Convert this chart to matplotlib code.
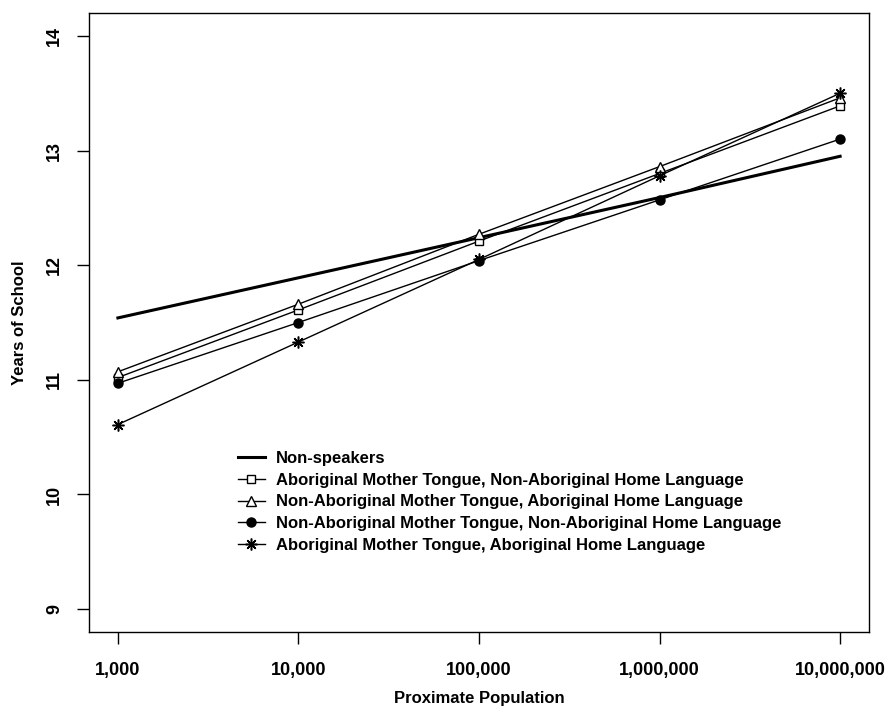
import numpy as np
import matplotlib
matplotlib.use('Agg')
import matplotlib.pyplot as plt
from matplotlib.ticker import FixedLocator, FuncFormatter, NullLocator

# -------------------------------------------------------------------------------------
# Data
population = [1e3, 1e4, 1e5, 1e6, 1e7]

school_nonspeakers = [11.54, 11.89, 12.24, 12.59, 12.95]
school_amt_nahl = [11.02, 11.61, 12.21, 12.80, 13.39]
school_namt_ahl = [11.07, 11.66, 12.27, 12.86, 13.46]
school_namt_nahl = [10.97, 11.50, 12.04, 12.57, 13.10]
school_amt_ahl = [10.61, 11.33, 12.05, 12.78, 13.50]

series_labels = ['Non-speakers',
                 'Aboriginal Mother Tongue, Non-Aboriginal Home Language',
                 'Non-Aboriginal Mother Tongue, Aboriginal Home Language',
                 'Non-Aboriginal Mother Tongue, Non-Aboriginal Home Language',
                 'Aboriginal Mother Tongue, Aboriginal Home Language']

y_ticks = [9, 10, 11, 12, 13, 14]
# -------------------------------------------------------------------------------------

plt.rcParams['font.family'] = ['Liberation Sans', 'DejaVu Sans']
plt.rcParams['font.weight'] = 'bold'

fig = plt.figure(figsize=(8.91, 7.11), dpi=100)
axes = fig.add_axes([89 / 891, 1 - 632 / 711, 780 / 891, 619 / 711])

axes.plot(population, school_nonspeakers, color='black', lw=2.2, label=series_labels[0])
axes.plot(population, school_amt_nahl, color='black', lw=1.0, marker='s', ms=6,
          mfc='white', mec='black', mew=1.0, label=series_labels[1])
axes.plot(population, school_namt_ahl, color='black', lw=1.0, marker='^', ms=7.5,
          mfc='white', mec='black', mew=1.0, label=series_labels[2])
axes.plot(population, school_namt_nahl, color='black', lw=1.0, marker='o', ms=6.5,
          mfc='black', mec='black', label=series_labels[3])
axes.plot(population, school_amt_ahl, color='black', lw=1.0, marker=(8, 2, 0), ms=8.5,
          mec='black', mew=1.1, label=series_labels[4])

# R-style 4% padding on both axes
axes.set_xscale('log')
lx = np.log10([1e3, 1e7])
pad = 0.04 * (lx[1] - lx[0])
axes.set_xlim(10 ** (lx[0] - pad), 10 ** (lx[1] + pad))
axes.set_ylim(9 - 0.2, 14 + 0.2)

axes.xaxis.set_major_locator(FixedLocator(population))
axes.xaxis.set_minor_locator(NullLocator())
axes.xaxis.set_major_formatter(FuncFormatter(lambda v, p: '{:,.0f}'.format(v)))
axes.set_yticks(y_ticks)
axes.set_yticklabels([str(t) for t in y_ticks], rotation=90, va='center')

axes.tick_params(axis='both', direction='out', length=8.5, width=1.0, labelsize=13, colors='black')
axes.tick_params(axis='x', pad=13)
axes.tick_params(axis='y', pad=10)
for spine in axes.spines.values():
    spine.set_linewidth(1.0)

axes.set_xlabel('Proximate Population', fontsize=12, fontweight='bold', labelpad=9)
axes.set_ylabel('Years of School', fontsize=12, fontweight='bold', labelpad=14)

axes.legend(loc='upper left', bbox_to_anchor=(238 / 891, 1 - 451 / 711),
            bbox_transform=fig.transFigure, frameon=False, fontsize=12,
            handlelength=1.6, handletextpad=0.7, labelspacing=0.4,
            borderpad=0, borderaxespad=0)

fig.savefig('out.png', dpi=100)
plt.close()
